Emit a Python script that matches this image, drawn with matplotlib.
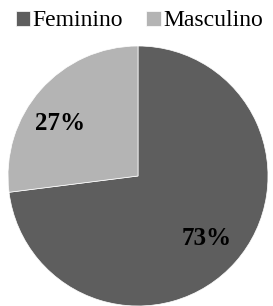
import matplotlib
matplotlib.use("Agg")
from matplotlib import pyplot as plt

categorias = ["Feminino", "Masculino"]
valores = [73, 27]
etiquetas = ["73%", "27%"]
cores = ["#5e5e5e", "#b4b4b4"]

plt.rcParams['font.family'] = ['Liberation Serif', 'DejaVu Serif']

fig = plt.figure(figsize=(2.73, 3.06), dpi=100)
ax = fig.add_axes([8/273, 0/306, 260/273, 260/306])

cunhas, _ = ax.pie(valores, colors=cores, startangle=90, counterclock=False,
                   radius=1, wedgeprops=dict(linewidth=0.5, edgecolor="white"))
ax.set_xlim(-1, 1)
ax.set_ylim(-1, 1)
ax.set_aspect("equal")

# posições dos rótulos
ax.text(0.53, -0.48, etiquetas[0], ha="center", va="center",
        fontsize=18, fontweight="bold", color="black")
ax.text(-0.60, 0.40, etiquetas[1], ha="center", va="center",
        fontsize=18, fontweight="bold", color="black")

fig.legend(cunhas, categorias, loc="center", bbox_to_anchor=(0.51, 1 - 21/306),
           ncol=2, frameon=False, fontsize=17, handlelength=0.6,
           handleheight=0.6, handletextpad=0.1, columnspacing=1.0,
           borderaxespad=0)

fig.savefig("out.png", dpi=100, facecolor="white")
